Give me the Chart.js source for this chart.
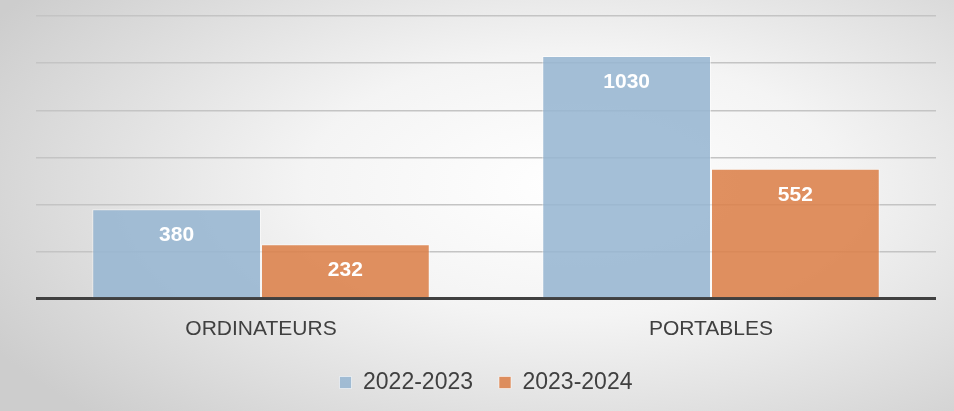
<!DOCTYPE html>
<html>
<head>
<meta charset="utf-8">
<script src="https://cdn.jsdelivr.net/npm/chart.js@4/dist/chart.umd.min.js"></script>
<style>
 html, body { margin: 0; padding: 0; }
 body {
     width: 954px; height: 411px; overflow: hidden;
     background: radial-gradient(ellipse 70% 80% at 60% 45%, #ffffff 0%, #f4f4f4 40%, #cdcdcd 100%);
 }
 #wrap { width: 954px; height: 411px; position: relative; }
</style>
</head>
<body>
<div id="wrap"><canvas id="barChart"></canvas></div>
<script>
 // categories et valeurs
 var categories = ["ORDINATEURS", "PORTABLES"];
 var serieLabels = ["2022-2023", "2023-2024"];
 var valeurs2022 = [380, 1030];
 var valeurs2023 = [232, 552];

 //----------------------------------------------- etiquettes blanches dans les barres ----------------------------------
 var etiquettes = {
     id: 'etiquettes',
     afterLayout: function (chart) {
         // remonte un peu la legende
         chart.legend.top -= 7;
         chart.legend.bottom -= 7;
     },
     afterDatasetsDraw: function (chart) {
         var ctx = chart.ctx;
         ctx.save();
         ctx.fillStyle = '#ffffff';
         ctx.font = 'bold 21px "Liberation Sans", Arial, sans-serif';
         ctx.textAlign = 'center';
         ctx.textBaseline = 'middle';
         chart.data.datasets.forEach(function (ds, i) {
             chart.getDatasetMeta(i).data.forEach(function (bar, j) {
                 ctx.fillText(ds.data[j], bar.x, bar.y + 26);
             });
         });
         ctx.restore();
     }
 };

 function TraitBarre(label, data, fond) {
     return {
         label: label,
         data: data,
         backgroundColor: fond,
         borderColor: 'rgba(255,255,255,0.55)',
         borderWidth: 1,
         categoryPercentage: 0.75,
         barPercentage: 1.0
     };
 }

 new Chart(document.getElementById("barChart"), {
     type: 'bar',
     data: {
         labels: categories,
         datasets: [
             TraitBarre(serieLabels[0], valeurs2022, 'rgba(150,182,209,0.87)'),
             TraitBarre(serieLabels[1], valeurs2023, 'rgba(219,128,72,0.87)')
         ]
     },
     options: {
         responsive: true,
         maintainAspectRatio: false,
         animation: false,
         layout: { padding: { left: 36, right: 18, top: 16, bottom: 0 } },
         plugins: {
             tooltip: { enabled: false },
             legend: {
                 position: 'bottom',
                 labels: {
                     color: '#404040',
                     font: { family: '"Liberation Sans"', size: 23 },
                     boxWidth: 12,
                     boxHeight: 12,
                     padding: 26
                 }
             }
         },
         scales: {
             x: {
                 grid: { display: false },
                 border: { display: false },
                 ticks: {
                     color: '#404040',
                     font: { family: '"Liberation Sans"', size: 21 },
                     padding: 10
                 }
             },
             y: {
                 min: 0,
                 max: 1200,
                 border: { display: false },
                 ticks: { display: false, stepSize: 200 },
                 grid: {
                     drawTicks: false,
                     color: function (c) { return c.tick.value === 0 ? '#404040' : '#c4c4c4'; },
                     lineWidth: function (c) { return c.tick.value === 0 ? 3 : 1.5; }
                 }
             }
         }
     },
     plugins: [etiquettes]
 });
</script>
</body>
</html>
